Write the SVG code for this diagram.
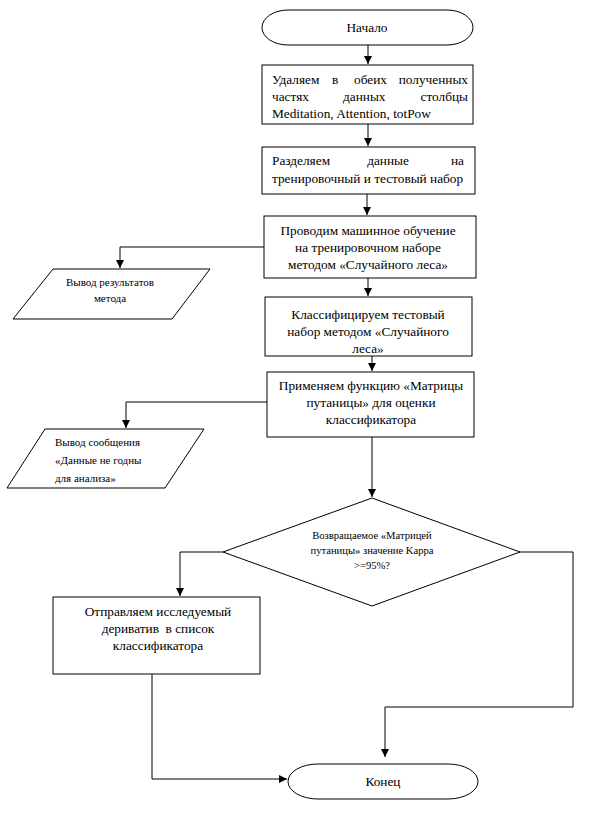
<svg xmlns="http://www.w3.org/2000/svg" width="596" height="814" viewBox="0 0 596 814">
<style>
.s{fill:#fff;stroke:#000;stroke-width:1}
.t{font-family:"Liberation Serif",serif;font-size:13.3px;fill:#000}
.m{text-anchor:middle}
.sm{font-size:11px}
.xs{font-size:10.6px}
.c{fill:none;stroke:#000;stroke-width:1}
</style>
<defs>
<marker id="a" markerUnits="userSpaceOnUse" markerWidth="10" markerHeight="10" refX="8" refY="4" orient="auto">
<path d="M0,0 L8,4 L0,8 Z" fill="#000"/>
</marker>
</defs>
<rect width="596" height="814" fill="#fff"/>
<g id="connectors">
<path class="c" d="M368,45 V64" marker-end="url(#a)"/>
<path class="c" d="M368,124 V146" marker-end="url(#a)"/>
<path class="c" d="M367,194 V215" marker-end="url(#a)"/>
<path class="c" d="M368,278 V296" marker-end="url(#a)"/>
<path class="c" d="M372,356 V371" marker-end="url(#a)"/>
<path class="c" d="M372,437 V497" marker-end="url(#a)"/>
<path class="c" d="M264,247 H120 V268" marker-end="url(#a)"/>
<path class="c" d="M267,402 H126 V428" marker-end="url(#a)"/>
<path class="c" d="M223,552 H180 V596" marker-end="url(#a)"/>
<path class="c" d="M520,552 H573 V707 H385 V757" marker-end="url(#a)"/>
<path class="c" d="M152,674 V779 H287" marker-end="url(#a)"/>
</g>
<g id="start">
<rect class="s" x="262" y="10" width="211" height="35" rx="26" ry="17.5"/>
<text class="t m" x="367" y="32">Начало</text>
</g>
<g id="box1">
<rect class="s" x="262" y="65" width="211" height="59"/>
<text class="t" y="84"><tspan x="272">Удаляем</tspan><tspan x="332">в</tspan><tspan x="354">обеих</tspan><tspan x="468" text-anchor="end">полученных</tspan></text>
<text class="t" y="101"><tspan x="272">частях</tspan><tspan x="343">данных</tspan><tspan x="468" text-anchor="end">столбцы</tspan></text>
<text class="t" x="272" y="118">Meditation, Attention, totPow</text>
</g>
<g id="box2">
<rect class="s" x="262" y="147" width="213" height="47"/>
<text class="t" y="165"><tspan x="272">Разделяем</tspan><tspan x="388" text-anchor="middle">данные</tspan><tspan x="464" text-anchor="end">на</tspan></text>
<text class="t" x="272" y="183">тренировочный и тестовый набор</text>
</g>
<g id="box3">
<rect class="s" x="264" y="216" width="212" height="62"/>
<text class="t m" x="368" y="235">Проводим машинное обучение</text>
<text class="t m" x="368" y="252">на тренировочном наборе</text>
<text class="t m" x="368" y="269">методом «Случайного леса»</text>
</g>
<g id="out1">
<polygon class="s" points="53,269 210,269 172,319 13,319"/>
<text class="t sm m" x="110" y="286">Вывод результатов</text>
<text class="t sm m" x="110" y="302">метода</text>
</g>
<g id="box4">
<rect class="s" x="265" y="297" width="207" height="59"/>
<text class="t m" x="368" y="319">Классифицируем тестовый</text>
<text class="t m" x="368" y="336">набор методом «Случайного</text>
<text class="t m" x="368" y="353">леса»</text>
</g>
<g id="box5">
<rect class="s" x="267" y="372" width="207" height="65"/>
<text class="t m" x="371" y="390">Применяем функцию «Матрицы</text>
<text class="t m" x="371" y="407">путаницы» для оценки</text>
<text class="t m" x="371" y="424">классификатора</text>
</g>
<g id="out2">
<polygon class="s" points="45,429 204,429 165,488 7,488"/>
<text class="t sm" x="55" y="446">Вывод сообщения</text>
<text class="t sm" x="55" y="464">«Данные не годны</text>
<text class="t sm" x="55" y="482">для анализа»</text>
</g>
<g id="decision">
<polygon class="s" points="372,498 520,552 372,606 223,552"/>
<text class="t xs m" x="372" y="539">Возвращаемое «Матрицей</text>
<text class="t xs m" x="372" y="554">путаницы» значение Kappa</text>
<text class="t xs m" x="372" y="569">&gt;=95%?</text>
</g>
<g id="box6">
<rect class="s" x="53" y="597" width="207" height="77"/>
<text class="t m" x="158" y="616">Отправляем исследуемый</text>
<text class="t m" x="158" y="633" xml:space="preserve">дериватив  в список</text>
<text class="t m" x="158" y="650">классификатора</text>
</g>
<g id="end">
<rect class="s" x="288" y="764" width="190" height="35" rx="30" ry="17.5"/>
<text class="t m" x="383" y="786">Конец</text>
</g>
</svg>
